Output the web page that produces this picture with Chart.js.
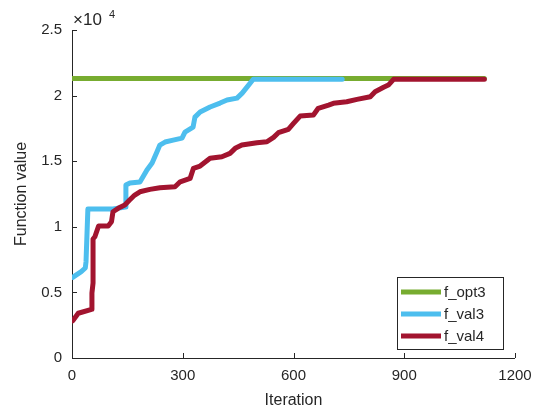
<!DOCTYPE html>
<html>
<head>
<meta charset="utf-8">
<script src="https://cdn.jsdelivr.net/npm/chart.js"></script>
<style>
  html, body { margin: 0; padding: 0; background: #fff; }
  #wrap { width: 537px; height: 410px; }
</style>
</head>
<body>
<div id="wrap"><canvas id="lineChart" width="537" height="410"></canvas></div>
<script>
// values
const seriesNames = ['f_opt3', 'f_val3', 'f_val4'];

const iterOpt3 = [0, 1117];
const valOpt3  = [21300, 21300];

const iterVal3 = [2, 25, 36, 38, 43, 111, 144, 146, 157, 184, 192, 203, 217, 230, 238, 252, 274, 298,
                  306, 328, 333, 347, 374, 401, 420, 447, 461, 474, 491, 732];
const valVal3  = [6150, 6580, 6860, 7340, 11350, 11350, 11500, 13180, 13340, 13410, 13790, 14330, 14860,
                  15700, 16230, 16460, 16610, 16760, 17220, 17600, 18360, 18750, 19130, 19430, 19660,
                  19810, 20190, 20650, 21250, 21250];

const iterVal4 = [2, 17, 53, 54, 57, 57, 62, 72, 98, 107, 111, 125, 143, 156, 170, 184, 211, 238, 279,
                  293, 320, 329, 347, 374, 406, 428, 442, 460, 501, 528, 546, 559, 586, 600, 618, 654,
                  667, 695, 708, 744, 772, 808, 821, 844, 857, 871, 1117];
const valVal4  = [2840, 3410, 3710, 4950, 5720, 9070, 9240, 10060, 10060, 10390, 11150, 11410, 11660,
                  12040, 12420, 12670, 12850, 12980, 13050, 13430, 13690, 14460, 14630, 15220, 15340,
                  15600, 15980, 16230, 16410, 16480, 16820, 17170, 17430, 17880, 18440, 18520, 19030,
                  19280, 19410, 19530, 19710, 19910, 20290, 20630, 20800, 21240, 21240];

const xTicks = [0, 300, 600, 900, 1200];
const xTickLabels = ['0', '300', '600', '900', '1200'];
const yTicks = [0, 5000, 10000, 15000, 20000, 25000];
const yTickLabels = ['0', '0.5', '1', '1.5', '2', '2.5'];

const colors = ['#77AC30', '#4DBEEE', '#A2142F'];
const axisColor = '#262626';
const fontFamily = '"Liberation Sans", Arial, Helvetica, sans-serif';

function toPoints(xs, ys) {
  return xs.map((x, i) => ({ x: x, y: ys[i] }));
}

const seriesData = [
  toPoints(iterOpt3, valOpt3),
  toPoints(iterVal3, valVal3),
  toPoints(iterVal4, valVal4)
];

// axis lines, inward ticks, x10^4 label and the legend box
const matlabDecor = {
  id: 'matlabDecor',
  beforeDatasetsDraw(chart) {
    const ctx = chart.ctx;
    const xs = chart.scales.x, ys = chart.scales.y;
    const area = chart.chartArea;
    ctx.save();
    ctx.strokeStyle = axisColor;
    ctx.lineWidth = 1;
    ctx.beginPath();
    ctx.moveTo(area.left + 0.5, area.top);
    ctx.lineTo(area.left + 0.5, area.bottom + 0.5);
    ctx.lineTo(area.right, area.bottom + 0.5);
    xTicks.forEach(v => {
      const px = Math.round(xs.getPixelForValue(v)) + 0.5;
      ctx.moveTo(px, area.bottom);
      ctx.lineTo(px, area.bottom - 5);
    });
    yTicks.forEach(v => {
      const py = Math.round(ys.getPixelForValue(v)) + 0.5;
      ctx.moveTo(area.left, py);
      ctx.lineTo(area.left + 5, py);
    });
    ctx.stroke();

    // exponent label
    ctx.fillStyle = axisColor;
    ctx.textBaseline = 'alphabetic';
    ctx.textAlign = 'left';
    ctx.font = '17px ' + fontFamily;
    ctx.fillText('\u00d710', 73, 25);
    ctx.font = '11px ' + fontFamily;
    ctx.fillText('4', 109, 18);
    ctx.restore();
  },
  afterDatasetsDraw(chart) {
    const ctx = chart.ctx;
    ctx.save();
    const box = { x: 397.5, y: 277.5, w: 106, h: 72 };
    ctx.fillStyle = '#fff';
    ctx.fillRect(box.x, box.y, box.w, box.h);
    ctx.strokeStyle = axisColor;
    ctx.lineWidth = 1;
    ctx.strokeRect(box.x, box.y, box.w, box.h);
    const rows = [292, 314, 336];
    ctx.font = '15px ' + fontFamily;
    ctx.textBaseline = 'middle';
    ctx.textAlign = 'left';
    seriesNames.forEach((name, i) => {
      ctx.strokeStyle = colors[i];
      ctx.lineWidth = 5;
      ctx.beginPath();
      ctx.moveTo(401, rows[i]);
      ctx.lineTo(441, rows[i]);
      ctx.stroke();
      ctx.fillStyle = axisColor;
      ctx.fillText(name, 444, rows[i] + 1);
    });
    ctx.restore();
  }
};

new Chart(document.getElementById('lineChart').getContext('2d'), {
  type: 'scatter',
  data: {
    datasets: seriesNames.map((name, i) => ({
      label: name,
      data: seriesData[i],
      showLine: true,
      borderColor: colors[i],
      backgroundColor: colors[i],
      borderWidth: 5,
      borderCapStyle: 'round',
      borderJoinStyle: 'round',
      pointRadius: 0,
      order: 3 - i
    }))
  },
  options: {
    responsive: false,
    animation: false,
    devicePixelRatio: 1,
    layout: { padding: { top: 30, right: 22, left: 0, bottom: 0 } },
    plugins: {
      legend: { display: false },
      tooltip: { enabled: false }
    },
    scales: {
      x: {
        type: 'linear',
        min: 0, max: 1200,
        afterBuildTicks: axis => { axis.ticks = xTicks.map(v => ({ value: v })); },
        afterFit: axis => { axis.height = 52; axis.paddingRight = 0; },
        grid: { display: false, drawTicks: false, tickLength: 0 },
        border: { display: false },
        ticks: {
          padding: 9,
          maxRotation: 0,
          color: axisColor,
          font: { family: fontFamily, size: 15 },
          callback: v => xTickLabels[xTicks.indexOf(v)]
        },
        title: {
          display: true,
          text: 'Iteration',
          color: axisColor,
          padding: { top: 0, bottom: 0 },
          font: { family: fontFamily, size: 16 }
        }
      },
      y: {
        type: 'linear',
        min: 0, max: 25000,
        afterBuildTicks: axis => { axis.ticks = yTicks.map(v => ({ value: v })); },
        afterFit: axis => { axis.width = 72; },
        grid: { display: false, drawTicks: false, tickLength: 0 },
        border: { display: false },
        ticks: {
          padding: 10,
          color: axisColor,
          font: { family: fontFamily, size: 15 },
          callback: v => yTickLabels[yTicks.indexOf(v)]
        },
        title: {
          display: true,
          text: 'Function value',
          color: axisColor,
          padding: { top: 12, bottom: 0 },
          font: { family: fontFamily, size: 16 }
        }
      }
    }
  },
  plugins: [matlabDecor]
});
</script>
</body>
</html>
